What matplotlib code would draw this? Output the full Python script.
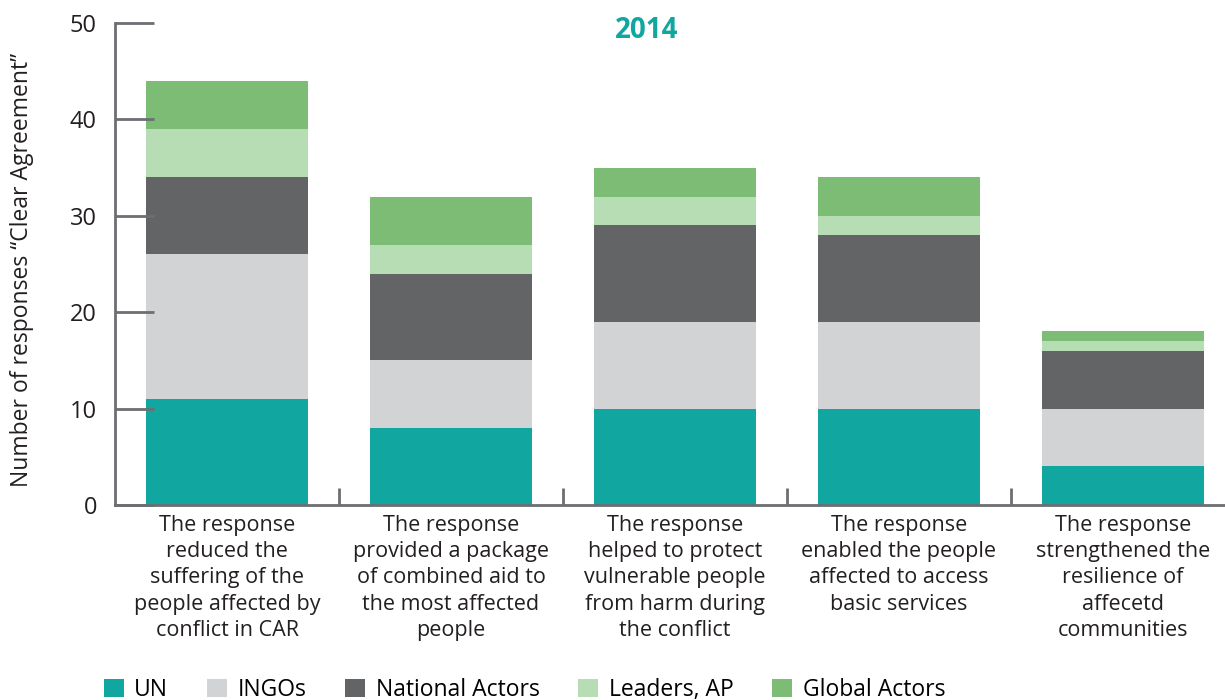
import numpy as np
import matplotlib
matplotlib.use("Agg")
import matplotlib.pyplot as plt
from matplotlib.patches import Patch

plt.rcParams['font.family'] = ['Open Sans', 'DejaVu Sans']

# data
categories = ["The response\nreduced the\nsuffering of the\npeople affected by\nconflict in CAR",
              "The response\nprovided a package\nof combined aid to\nthe most affected\npeople",
              "The response\nhelped to protect\nvulnerable people\nfrom harm during\nthe conflict",
              "The response\nenabled the people\naffected to access\nbasic services",
              "The response\nstrengthened the\nresilience of\naffecetd\ncommunities"]
series_names = ["UN", "INGOs", "National Actors", "Leaders, AP", "Global Actors"]
un = [11, 8, 10, 10, 4]
ingos = [15, 7, 9, 9, 6]
national = [8, 9, 10, 9, 6]
leaders = [5, 3, 3, 2, 1]
global_actors = [5, 5, 3, 4, 1]
yticks = [0, 10, 20, 30, 40, 50]

colors = ["#12a6a0", "#d2d3d5", "#636466", "#b6ddb4", "#7dbc75"]
axis_col = "#6d6e71"
text_col = "#231f20"

fig = plt.figure(figsize=(12.25, 7), dpi=100)
ax = fig.add_axes([115/1225, 195/700, 1120/1225, 482/700])

x = np.arange(len(categories))
bottom = np.zeros(len(categories))
for vals, col in zip([un, ingos, national, leaders, global_actors], colors):
    ax.bar(x, vals, bottom=bottom, width=0.72, color=col, linewidth=0)
    bottom += np.array(vals)

ax.set_xlim(-0.5, len(categories) - 0.5)
ax.set_ylim(0, 50)

for s in ["top", "right"]:
    ax.spines[s].set_visible(False)
for s in ["left", "bottom"]:
    ax.spines[s].set_color(axis_col)
    ax.spines[s].set_linewidth(2)

ax.set_yticks(yticks)
ax.tick_params(axis="y", direction="in", length=28, width=2, color=axis_col,
               labelsize=17, pad=13, labelcolor=text_col)

# category separators as minor ticks pointing up
ax.set_xticks(x)
ax.set_xticklabels(categories, fontsize=15.5, linespacing=1.33, color=text_col)
ax.tick_params(axis="x", which="major", length=0, pad=7)
ax.set_xticks(x[:-1] + 0.5, minor=True)
ax.tick_params(axis="x", which="minor", direction="in", length=12, width=2, color=axis_col)

fig.text(22/1225, 1 - 270/700, "Number of responses \u201cClear Agreement\u201d", rotation=90,
         ha="center", va="center", fontsize=16.5, color=text_col)

fig.text(647/1225, 1 - 31/700, "2014", ha="center", va="center", fontsize=20,
         fontweight="bold", color="#12a6a0")

handles = [Patch(facecolor=c, edgecolor="none") for c in colors]
fig.legend(handles, series_names, loc="center left", bbox_to_anchor=(104/1225, 1 - 690/700),
           ncol=5, frameon=False, fontsize=16.5, handlelength=0.87, handleheight=0.87,
           handletextpad=0.45, columnspacing=1.7, borderaxespad=0, borderpad=0)

fig.savefig("out.png", dpi=100)
